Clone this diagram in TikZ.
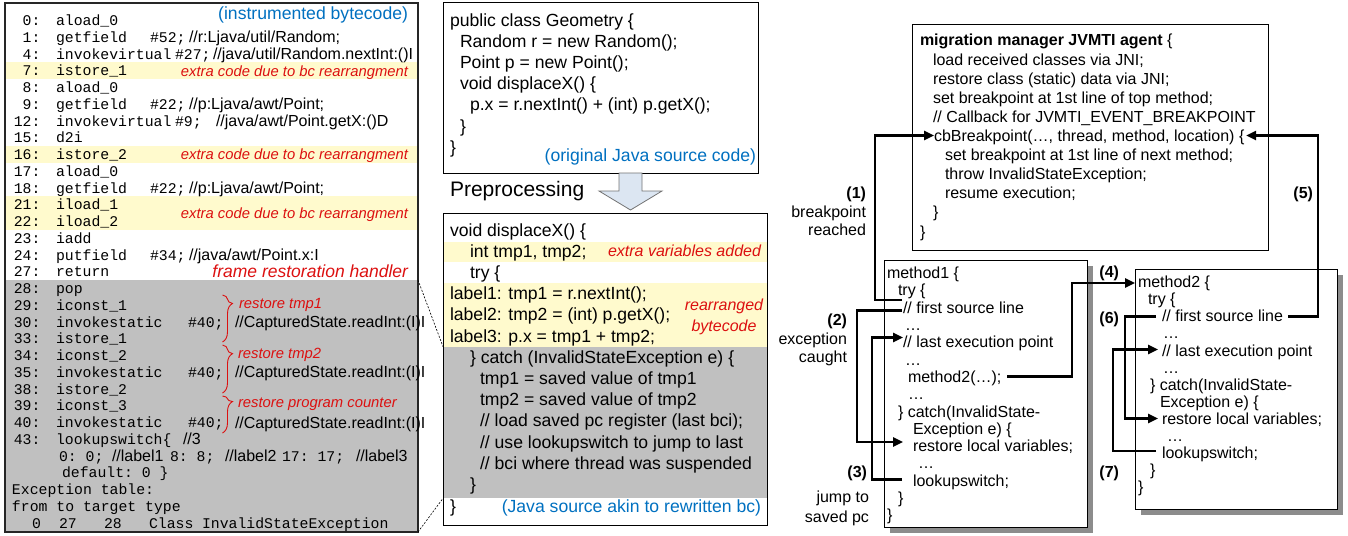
\documentclass[tikz,border=0pt]{standalone}
\usepackage{fontspec}
\setmainfont{Liberation Sans}
\setmonofont{Liberation Mono}
\usetikzlibrary{arrows.meta,decorations.pathreplacing}
\definecolor{myyel}{RGB}{255,250,205}
\definecolor{mygray}{RGB}{192,192,192}
\definecolor{myred}{RGB}{220,16,16}
\definecolor{myblue}{RGB}{0,112,192}
\definecolor{arrfill}{RGB}{220,230,242}
\tikzset{
 txt/.style={inner sep=0pt, outer sep=0pt, text depth=0pt, anchor=west},
 mono/.style={txt, font=\fontsize{14.8}{17}\selectfont\ttfamily, text height=10.4pt},
 cmt/.style={txt, font=\fontsize{16}{19}\selectfont, text height=11.2pt},
 rednote/.style={txt, font=\fontsize{14.8}{18}\selectfont\itshape, text=myred, text height=10.5pt, anchor=east},
 redmid/.style={txt, font=\fontsize{16}{19}\selectfont\itshape, text=myred, text height=11.2pt, anchor=east},
 bluenote/.style={txt, font=\fontsize{17.6}{21}\selectfont, text=myblue, text height=12.3pt, anchor=east},
 midtxt/.style={txt, font=\fontsize{17.6}{21}\selectfont, text height=12.3pt},
 rtxt/.style={txt, font=\fontsize{16}{19}\selectfont, text height=11.2pt},
 lbl/.style={rtxt, anchor=east},
 numlbl/.style={lbl, font=\fontsize{16}{19}\selectfont\bfseries},
 panel/.style={draw=black!85, line width=1.2pt},
 cbox/.style={draw=black, line width=1pt, fill=white},
 conn/.style={line width=2.4pt, line join=miter},
 arrowtip/.style={-{Triangle[length=10pt,width=9pt]}},
 redbrace/.style={draw=myred, line width=0.9pt, decorate},
 dashline/.style={line width=0.6pt, dash pattern=on 2pt off 1.5pt},
}
\begin{document}
\begin{tikzpicture}[x=1pt,y=-1pt]
\useasboundingbox (0,0) rectangle (1348,535);
% ================= left panel =================
\fill[myyel] (5,62.4) rectangle (418,79.1);
\fill[myyel] (5,146.1) rectangle (418,162.9);
\fill[myyel] (5,196.4) rectangle (418,229.9);
\fill[mygray] (5,280) rectangle (418,532);
\draw[panel] (5,3) rectangle (418,532);
\node[bluenote] (lbt) at (408,13.5) {(instrumented bytecode)};
\foreach \n/\ins [count=\k from 0] in {0:/aload\_0,1:/getfield,4:/invokevirtual,7:/istore\_1,8:/aload\_0,9:/getfield,12:/invokevirtual,15:/d2i,16:/istore\_2,17:/aload\_0,18:/getfield,21:/iload\_1,22:/iload\_2,23:/iadd,24:/putfield,27:/return,28:/pop,29:/iconst\_1,30:/invokestatic,33:/istore\_1,34:/iconst\_2,35:/invokestatic,38:/istore\_2,39:/iconst\_3,40:/invokestatic,43:/lookupswitch\{}
{
 \node[mono,anchor=east] (bn\k) at (40.5,{20.5+16.75*\k}) {\n};
 \node[mono] (bi\k) at (56,{20.5+16.75*\k}) {\ins};
}
\node[mono] (op1) at (150,37.25) {\#52;};
\node[cmt] (cm1) at (189,37.25) {//r:Ljava/util/Random;};
\node[mono] (op2) at (175,54) {\#27;};
\node[cmt] (cm2) at (213,54) {//java/util/Random.nextInt:()I};
\node[mono] (op5) at (150,104.25) {\#22;};
\node[cmt] (cm5) at (189,104.25) {//p:Ljava/awt/Point;};
\node[mono] (op6) at (175,121) {\#9;};
\node[cmt] (cm6) at (216,121) {//java/awt/Point.getX:()D};
\node[mono] (op10) at (150,188) {\#22;};
\node[cmt] (cm10) at (189,188) {//p:Ljava/awt/Point;};
\node[mono] (op14) at (150,255) {\#34;};
\node[cmt] (cm14) at (189,255) {//java/awt/Point.x:I};
\node[mono] (op18) at (188,322) {\#40;};
\node[cmt] (cm18) at (235,322) {//CapturedState.readInt:(I)I};
\node[mono] (op21) at (188,372.25) {\#40;};
\node[cmt] (cm21) at (235,372.25) {//CapturedState.readInt:(I)I};
\node[mono] (op24) at (188,422.5) {\#40;};
\node[cmt] (cm24) at (235,422.5) {//CapturedState.readInt:(I)I};
\node[cmt] (cm25) at (183,439.25) {//3};
\node[mono] (ls1) at (59,456) {0: 0;};
\node[cmt] (ls2) at (112,456) {//label1};
\node[mono] (ls3) at (170,456) {8: 8;};
\node[cmt] (ls4) at (225,456) {//label2};
\node[mono] (ls5) at (282,456) {17: 17;};
\node[cmt] (ls6) at (356,456) {//label3};
\node[mono] (dflt) at (62,472.75) {default: 0 \}};
\node[mono] (ext) at (12,489.5) {Exception table:};
\node[mono] (ftt) at (12,506.25) {from to target type};
\node[mono] (et1) at (32,523) {0};
\node[mono] (et2) at (59,523) {27};
\node[mono] (et3) at (104,523) {28};
\node[mono] (et4) at (149,523) {Class};
\node[mono] (et5) at (202,523) {InvalidStateException};
\node[rednote] (rn1) at (408,70.75) {extra code due to bc rearrangment};
\node[rednote] (rn2) at (408,154.5) {extra code due to bc rearrangment};
\node[rednote] (rn3) at (408,213.1) {extra code due to bc rearrangment};
\node[rednote, font=\fontsize{17.5}{20}\selectfont\itshape, text height=12.3pt] (rn4) at (408,271.75) {frame restoration handler};
\draw[redbrace, decoration={brace, amplitude=10pt, aspect=0.18}] (222.5,295) -- (222.5,342);
\draw[redbrace, decoration={brace, amplitude=10pt, aspect=0.18}] (222.5,345) -- (222.5,393);
\draw[redbrace, decoration={brace, amplitude=10pt, aspect=0.15}] (222.5,396) -- (222.5,433);
\node[rednote, anchor=west] (rt1) at (239,303) {restore tmp1};
\node[rednote, anchor=west] (rt2) at (238,353) {restore tmp2};
\node[rednote, anchor=west] (rt3) at (238,402) {restore program counter};
% ================= middle panel =================
\draw[cbox] (443,2.5) rectangle (758,173);
\node[midtxt] (s0) at (450,20) {public class Geometry \{};
\node[midtxt] (s1) at (460,41) {Random r = new Random();};
\node[midtxt] (s2) at (460,62) {Point p = new Point();};
\node[midtxt] (s3) at (460,83) {void displaceX() \{};
\node[midtxt] (s4) at (470,104.5) {p.x = r.nextInt() + (int) p.getX();};
\node[midtxt] (s5) at (460,126) {\}};
\node[midtxt] (s6) at (450,147) {\}};
\node[bluenote] (s7) at (756,155.5) {(original Java source code)};
\draw[draw=black!55, fill=arrfill, line width=0.8pt] (619,173) -- (642,173) -- (642,191) -- (662,191) -- (630.5,210) -- (599,191) -- (619,191) -- cycle;
\node[midtxt, font=\fontsize{21}{24}\selectfont, text height=14.7pt] (prep) at (450,189) {Preprocessing};
\fill[myyel] (443,241.7) rectangle (767,262);
\fill[myyel] (443,283.3) rectangle (767,346.7);
\fill[mygray] (443,346.7) rectangle (767,498.3);
\draw[draw=black, line width=1pt] (443,213) rectangle (767,525);
\node[midtxt] (j0) at (450,230) {void displaceX() \{};
\node[midtxt] (j1) at (470,251.2) {int tmp1, tmp2;};
\node[redmid] (j1r) at (761,251.2) {extra variables added};
\node[midtxt] (j2) at (470,272.4) {try \{};
\node[midtxt] (j3) at (450,293.6) {label1: tmp1 = r.nextInt();};
\node[midtxt] (j4) at (450,314.8) {label2: tmp2 = (int) p.getX();};
\node[midtxt] (j5) at (450,336) {label3: p.x = tmp1 + tmp2;};
\node[redmid, anchor=center] (j4r) at (724,305) {rearranged};
\node[redmid, anchor=center] (j5r) at (724,325.5) {bytecode};
\node[midtxt] (j6) at (470,357.2) {\} catch (InvalidStateException e) \{};
\node[midtxt] (j7) at (480,378.4) {tmp1 = saved value of tmp1};
\node[midtxt] (j8) at (480,399.6) {tmp2 = saved value of tmp2};
\node[midtxt] (j9) at (480,420.8) {// load saved pc register (last bci);};
\node[midtxt] (j10) at (480,442) {// use lookupswitch to jump to last};
\node[midtxt] (j11) at (480,463.2) {// bci where thread was suspended};
\node[midtxt] (j12) at (470,484.4) {\}};
\node[midtxt] (j13) at (450,506.5) {\}};
\node[bluenote] (j13b) at (761,506.5) {(Java source akin to rewritten bc)};
% dashed zoom lines
\coordinate (dA1) at (418,280);
\coordinate (dA2) at (443,346.7);
\coordinate (dB1) at (418,532);
\coordinate (dB2) at (443,498.3);
\draw[dashline] (dA1) -- (dA2);
\draw[dashline] (dB1) -- (dB2);
% ================= right panel =================
\draw[cbox] (912,25) rectangle (1268,250);
\node[rtxt] (ag0) at (920,40) {\textbf{migration manager JVMTI agent} \{};
\node[rtxt] (ag1) at (933,60) {load received classes via JNI;};
\node[rtxt] (ag2) at (933,79) {restore class (static) data via JNI;};
\node[rtxt] (ag3) at (933,98) {set breakpoint at 1st line of top method;};
\node[rtxt] (ag4) at (933,117) {// Callback for JVMTI\_EVENT\_BREAKPOINT};
\node[rtxt] (cb) at (934,135.5) {cbBreakpoint(…, thread, method, location) \{};
\node[rtxt] (ag6) at (945,155) {set breakpoint at 1st line of next method;};
\node[rtxt] (ag7) at (945,174) {throw InvalidStateException;};
\node[rtxt] (ag8) at (945,193) {resume execution;};
\node[rtxt] (ag9) at (933,212) {\}};
\node[rtxt] (ag10) at (920,232) {\}};
% method1 box
\fill[black!45] (890,266) rectangle (1093,533);
\draw[cbox] (884,260) rectangle (1087,527);
\node[rtxt] (a0) at (887,273) {method1 \{};
\node[rtxt] (a1) at (898,290.3) {try \{};
\node[rtxt] (a2) at (903,307.6) {// first source line};
\node[rtxt] (a3) at (905,324.9) {…};
\node[rtxt] (a4) at (903,342.2) {// last execution point};
\node[rtxt] (a5) at (905,359.5) {…};
\node[rtxt] (a6) at (908,376.8) {method2(…);};
\node[rtxt] (a7) at (908,394.1) {…};
\node[rtxt] (a8) at (898,411.4) {\} catch(InvalidState-};
\node[rtxt] (a9) at (913,428.7) {Exception e) \{};
\node[rtxt] (a10) at (913,446) {restore local variables;};
\node[rtxt] (a11) at (918,463.3) {…};
\node[rtxt] (a12) at (913,480.6) {lookupswitch;};
\node[rtxt] (a13) at (898,497.9) {\}};
\node[rtxt] (a14) at (887,515.2) {\}};
% method2 box
\fill[black!45] (1141,275) rectangle (1343,515);
\draw[cbox] (1135,269) rectangle (1337,509);
\node[rtxt] (b0) at (1138,282) {method2 \{};
\node[rtxt] (b1) at (1148,299.1) {try \{};
\node[rtxt] (b2) at (1162,316.2) {// first source line};
\node[rtxt] (b3) at (1163,333.3) {…};
\node[rtxt] (b4) at (1162,350.4) {// last execution point};
\node[rtxt] (b5) at (1163,367.5) {…};
\node[rtxt] (b6) at (1150,384.6) {\} catch(InvalidState-};
\node[rtxt] (b7) at (1160,401.7) {Exception e) \{};
\node[rtxt] (b8) at (1162,418.8) {restore local variables;};
\node[rtxt] (b9) at (1167,435.9) {…};
\node[rtxt] (b10) at (1162,453) {lookupswitch;};
\node[rtxt] (b11) at (1150,470.1) {\}};
\node[rtxt] (b12) at (1138,487.2) {\}};
% labels
\node[numlbl] (L1) at (866,193) {(1)};
\node[lbl] (L1a) at (866,212) {breakpoint};
\node[lbl] (L1b) at (866,230) {reached};
\node[numlbl] (L2) at (847,320) {(2)};
\node[lbl] (L2a) at (847,338.5) {exception};
\node[lbl] (L2b) at (847,357) {caught};
\node[numlbl] (L3) at (867,472) {(3)};
\node[lbl] (L3a) at (869,497) {jump to};
\node[lbl] (L3b) at (869,517) {saved pc};
\node[numlbl] (L4) at (1119,272) {(4)};
\node[numlbl] (L5) at (1313,193) {(5)};
\node[numlbl] (L6) at (1119,318) {(6)};
\node[numlbl] (L7) at (1119,472) {(7)};
% connectors
\coordinate (p1s) at (902,300);
\coordinate (p2s) at (902,310.5);
\coordinate (p2e) at (903,442);
\coordinate (p3s) at (902,479.5);
\coordinate (p3e) at (903,337.5);
\coordinate (p4s) at (1007,376.5);
\coordinate (p4e) at (1135,283);
\coordinate (p5s) at (1288,316.5);
\coordinate (p5e) at (1246,135.5);
\coordinate (p6s) at (1156,316.5);
\coordinate (p6e) at (1158,418.5);
\coordinate (p7s) at (1156,451);
\coordinate (p7e) at (1158,349.5);
\draw[conn,arrowtip] (p1s) -- (875,300) |- (cb.west);
\draw[conn,arrowtip] (p2s) -- (857,310.5) |- (p2e);
\draw[conn,arrowtip] (p3s) -- (872,479.5) |- (p3e);
\draw[conn,arrowtip] (p4s) -- (1072,376.5) |- (p4e);
\draw[conn,arrowtip] (p5s) -- (1318,316.5) |- (p5e);
\draw[conn,arrowtip] (p6s) -- (1125,316.5) |- (p6e);
\draw[conn,arrowtip] (p7s) -- (1113,451) |- (p7e);
\end{tikzpicture}
\end{document}
